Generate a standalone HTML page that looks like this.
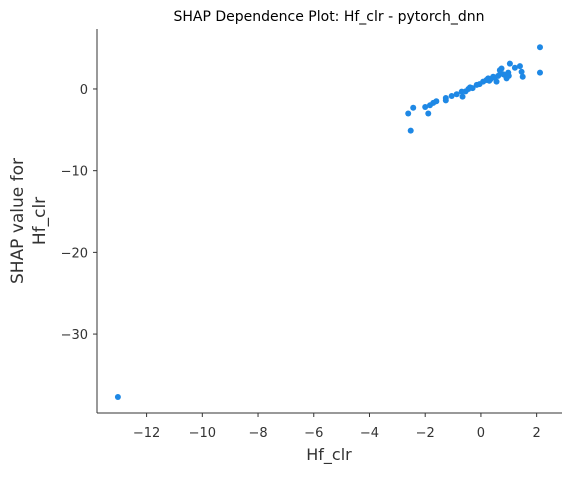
<!DOCTYPE html>
<html><head><meta charset="utf-8"><style>
body{margin:0;background:#fff;font-family:"Liberation Sans","DejaVu Sans",sans-serif}
svg text{font-family:"DejaVu Sans","Liberation Sans",sans-serif;fill:#333}
</style></head><body>
<svg id="chart" width="571" height="473" xmlns="http://www.w3.org/2000/svg">
<text x="329" y="21" text-anchor="middle" font-size="14" style="fill:#000">SHAP Dependence Plot: Hf_clr - pytorch_dnn</text>
<g id="axes"></g><g id="pts"></g>
<text x="329" y="460" text-anchor="middle" font-size="16">Hf_clr</text>
<text transform="translate(24,221) rotate(-90)" text-anchor="middle" font-size="17"><tspan x="0" dy="-1">SHAP value for</tspan><tspan x="0" dy="22">Hf_clr</tspan></text>
</svg>
<script>
const xVals=[2.12,2.12,-2.52,-2.61,-2.43,-2.0,-1.89,-1.83,-1.71,-1.26,-1.26,-1.05,-0.87,-0.69,-0.66,-0.45,-0.39,-0.3,-0.15,-0.05,0.08,0.2,0.26,0.35,0.44,0.5,0.56,0.62,0.68,0.74,0.8,0.86,0.92,0.98,1.04,1.22,1.40,1.46,1.5,-1.6,-0.55,0.3,0.7,1.0];
const yVals=[5.1,2.0,-5.1,-3.0,-2.3,-2.2,-3.0,-2.0,-1.7,-1.1,-1.4,-0.86,-0.65,-0.33,-0.94,0.0,0.2,0.1,0.5,0.6,0.9,1.1,1.3,1.2,1.5,1.4,0.9,1.6,2.3,2.5,1.8,1.7,1.3,2.0,3.1,2.6,2.8,2.1,1.5,-1.5,-0.3,1.0,1.9,1.6];
const outlierX=[-13.03];const outlierY=[-37.7];
const xTicks=[-12,-10,-8,-6,-4,-2,0,2];
const yTicks=[0,-10,-20,-30];
const L=97,R=562,T=29,B=413,x0=-13.78,x1=2.91,y0=-39.66,y1=7.34;
const sx=v=>L+(v-x0)/(x1-x0)*(R-L), sy=v=>B-(v-y0)/(y1-y0)*(B-T);
const NS="http://www.w3.org/2000/svg";
const ax=document.getElementById('axes'),pts=document.getElementById('pts');
function mk(tag,at,parent){const e=document.createElementNS(NS,tag);for(const k in at)e.setAttribute(k,at[k]);parent.appendChild(e);return e;}
let e=mk('line',{x1:L,y1:T,x2:L,y2:B,stroke:'#333','stroke-width':1},ax);


e=mk('line',{x1:L,y1:B,x2:R,y2:B,stroke:'#333','stroke-width':1},ax);


xTicks.forEach(t=>{const x=sx(t);
 mk('line',{x1:x,y1:B,x2:x,y2:B+4,stroke:'#333'},ax);
 const tx=mk('text',{x:x,y:B+24,'text-anchor':'middle','font-size':13},ax);tx.textContent=(t<0?'\u2212'+(-t):t);
 
 });
yTicks.forEach(t=>{const y=sy(t);
 mk('line',{x1:L-4,y1:y,x2:L,y2:y,stroke:'#333'},ax);
 const tx=mk('text',{x:L-9,y:y+5,'text-anchor':'end','font-size':13},ax);tx.textContent=(t<0?'\u2212'+(-t):t);
 
 });
const allX=xVals.concat(outlierX),allY=yVals.concat(outlierY);
allX.forEach((v,i)=>{const c=mk('circle',{cx:sx(v),cy:sy(allY[i]),r:3,fill:'#1E88E5'},pts);
 
 });
</script>
</body></html>
